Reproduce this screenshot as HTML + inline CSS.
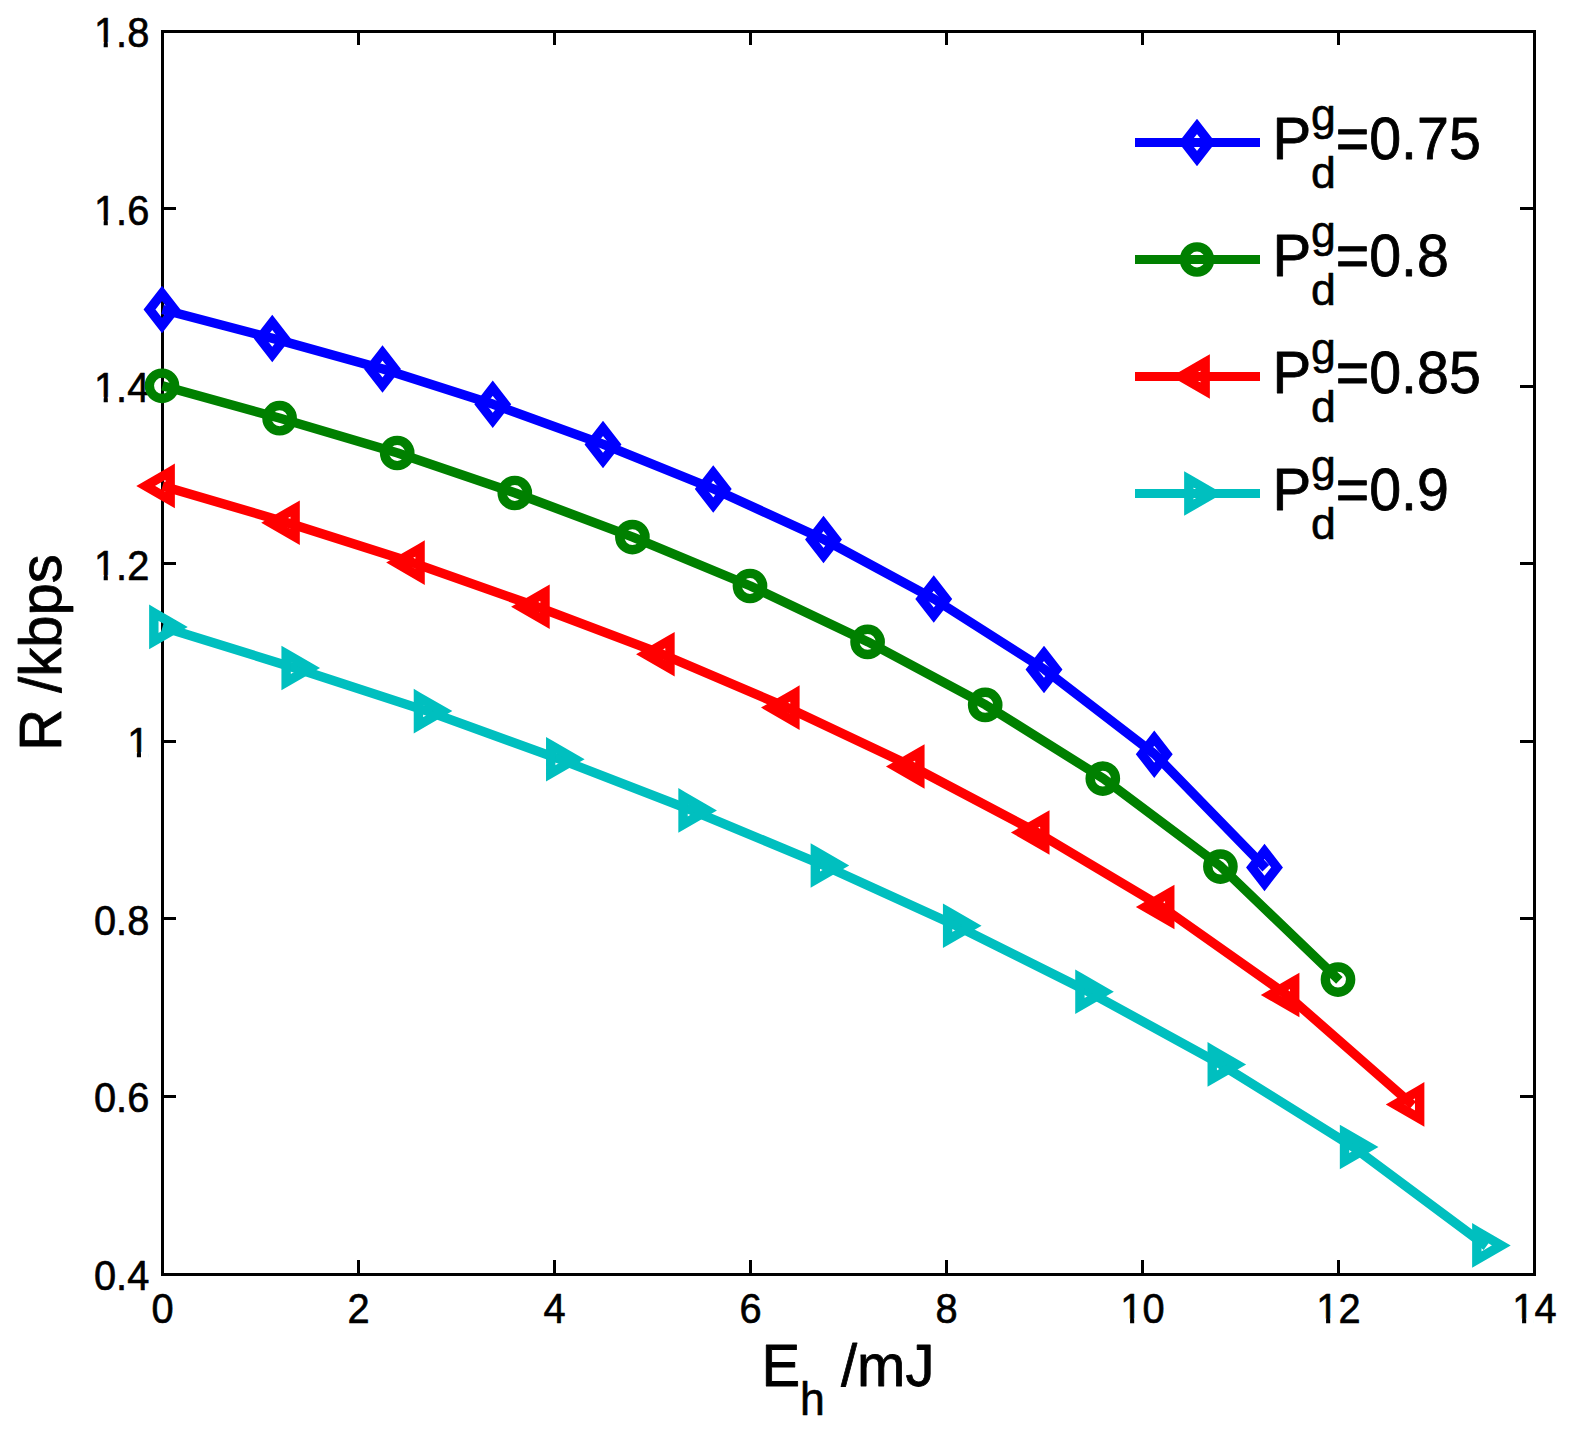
<!DOCTYPE html>
<html lang="en">
<head>
<meta charset="utf-8">
<title>R vs E_h</title>
<style>
html,body{margin:0;padding:0;background:#fff;}
body{width:1572px;height:1439px;overflow:hidden;}
svg{display:block;}
text{font-family:"Liberation Sans",sans-serif;fill:#000;}
text{stroke:#000;stroke-linejoin:round;}
.tick{font-size:39.8px;stroke-width:0.6px;}
.lab{font-size:58px;stroke-width:0.8px;}
.sub{font-size:44.6px;stroke-width:0.6px;}
</style>
</head>
<body>
<svg width="1572" height="1439" viewBox="0 0 1572 1439">
<rect x="0" y="0" width="1572" height="1439" fill="#ffffff"/>
<g fill="#000" shape-rendering="crispEdges">
<rect x="161" y="30" width="1375" height="3"/>
<rect x="161" y="1273" width="1375" height="3"/>
<rect x="161" y="30" width="3" height="1246"/>
<rect x="1533" y="30" width="3" height="1246"/>
<rect x="357" y="1260" width="3" height="13"/>
<rect x="357" y="33" width="3" height="12"/>
<rect x="553" y="1260" width="3" height="13"/>
<rect x="553" y="33" width="3" height="12"/>
<rect x="749" y="1260" width="3" height="13"/>
<rect x="749" y="33" width="3" height="12"/>
<rect x="945" y="1260" width="3" height="13"/>
<rect x="945" y="33" width="3" height="12"/>
<rect x="1141" y="1260" width="3" height="13"/>
<rect x="1141" y="33" width="3" height="12"/>
<rect x="1337" y="1260" width="3" height="13"/>
<rect x="1337" y="33" width="3" height="12"/>
<rect x="164" y="207" width="12" height="3"/>
<rect x="1520" y="207" width="13" height="3"/>
<rect x="164" y="385" width="12" height="3"/>
<rect x="1520" y="385" width="13" height="3"/>
<rect x="164" y="562" width="12" height="3"/>
<rect x="1520" y="562" width="13" height="3"/>
<rect x="164" y="740" width="12" height="3"/>
<rect x="1520" y="740" width="13" height="3"/>
<rect x="164" y="917" width="12" height="3"/>
<rect x="1520" y="917" width="13" height="3"/>
<rect x="164" y="1095" width="12" height="3"/>
<rect x="1520" y="1095" width="13" height="3"/>
</g>
<g class="tick">
<text transform="translate(149.3 46.5) scale(1 1.08)" text-anchor="end">1.8</text>
<text transform="translate(149.3 224.5) scale(1 1.08)" text-anchor="end">1.6</text>
<text transform="translate(149.3 401.5) scale(1 1.08)" text-anchor="end">1.4</text>
<text transform="translate(149.3 579.5) scale(1 1.08)" text-anchor="end">1.2</text>
<text transform="translate(149.3 756.5) scale(1 1.08)" text-anchor="end">1</text>
<text transform="translate(149.3 934.5) scale(1 1.08)" text-anchor="end">0.8</text>
<text transform="translate(149.3 1111.5) scale(1 1.08)" text-anchor="end">0.6</text>
<text transform="translate(149.3 1289.5) scale(1 1.08)" text-anchor="end">0.4</text>
<text transform="translate(162.5 1323.1) scale(1 1.08)" text-anchor="middle">0</text>
<text transform="translate(358.5 1323.1) scale(1 1.08)" text-anchor="middle">2</text>
<text transform="translate(554.5 1323.1) scale(1 1.08)" text-anchor="middle">4</text>
<text transform="translate(750.5 1323.1) scale(1 1.08)" text-anchor="middle">6</text>
<text transform="translate(946.5 1323.1) scale(1 1.08)" text-anchor="middle">8</text>
<text transform="translate(1142.5 1323.1) scale(1 1.08)" text-anchor="middle">10</text>
<text transform="translate(1338.5 1323.1) scale(1 1.08)" text-anchor="middle">12</text>
<text transform="translate(1534.5 1323.1) scale(1 1.08)" text-anchor="middle">14</text>
</g>
<rect x="94.97" y="41.89" width="8.71" height="6.41" fill="#fff"/>
<rect x="107.8" y="41.89" width="7.6" height="6.41" fill="#fff"/>
<rect x="94.97" y="219.89" width="8.71" height="6.41" fill="#fff"/>
<rect x="107.8" y="219.89" width="7.6" height="6.41" fill="#fff"/>
<rect x="94.97" y="396.89" width="8.71" height="6.41" fill="#fff"/>
<rect x="107.8" y="396.89" width="7.6" height="6.41" fill="#fff"/>
<rect x="94.97" y="574.89" width="8.71" height="6.41" fill="#fff"/>
<rect x="107.8" y="574.89" width="7.6" height="6.41" fill="#fff"/>
<rect x="128.17" y="751.89" width="8.71" height="6.41" fill="#fff"/>
<rect x="140.99" y="751.89" width="7.6" height="6.41" fill="#fff"/>
<rect x="1121.37" y="1318.49" width="8.71" height="6.41" fill="#fff"/>
<rect x="1134.19" y="1318.49" width="7.6" height="6.41" fill="#fff"/>
<rect x="1317.37" y="1318.49" width="8.71" height="6.41" fill="#fff"/>
<rect x="1330.19" y="1318.49" width="7.6" height="6.41" fill="#fff"/>
<rect x="1513.37" y="1318.49" width="8.71" height="6.41" fill="#fff"/>
<rect x="1526.19" y="1318.49" width="7.6" height="6.41" fill="#fff"/>
<text class="lab" transform="translate(761.4 1385.8) scale(1 1.02)">E<tspan class="sub" dy="28.33">h</tspan><tspan dy="-28.33"> /mJ</tspan></text>
<text class="lab" transform="translate(60.8 750.8) rotate(-90) scale(1 1.02)">R /kbps</text>
<g stroke="#0000ff" stroke-width="9.4" fill="none" stroke-linejoin="miter" stroke-miterlimit="10">
<polyline points="162.5,309.5 272.75,338.4 383,369 493.25,404.3 603.5,444.4 713.75,489 824,539.5 934.25,599.1 1044.5,669.4 1154.75,754.2 1265.84,868.26" stroke-linejoin="round"/>
<polygon points="162,293.4 174.5,309.5 162,325.6 149.5,309.5"/>
<polygon points="272.25,322.3 284.75,338.4 272.25,354.5 259.75,338.4"/>
<polygon points="382.5,352.9 395,369 382.5,385.1 370,369"/>
<polygon points="492.75,388.2 505.25,404.3 492.75,420.4 480.25,404.3"/>
<polygon points="603,428.3 615.5,444.4 603,460.5 590.5,444.4"/>
<polygon points="713.25,472.9 725.75,489 713.25,505.1 700.75,489"/>
<polygon points="823.5,523.4 836,539.5 823.5,555.6 811,539.5"/>
<polygon points="933.75,583 946.25,599.1 933.75,615.2 921.25,599.1"/>
<polygon points="1044,653.3 1056.5,669.4 1044,685.5 1031.5,669.4"/>
<polygon points="1154.25,738.1 1166.75,754.2 1154.25,770.3 1141.75,754.2"/>
<polygon points="1264.5,851.3 1277,867.4 1264.5,883.5 1252,867.4"/>
</g>
<g stroke="#008000" stroke-width="9.4" fill="none" stroke-linejoin="miter" stroke-miterlimit="10">
<polyline points="162.5,385.8 280.1,418.2 397.7,453 515.3,493 632.9,537.1 750.5,586 868.1,641.9 985.7,704.9 1103.3,778.6 1220.9,866.6 1339.37,980.43" stroke-linejoin="round"/>
<circle cx="162" cy="385.8" r="12.65"/>
<circle cx="279.6" cy="418.2" r="12.65"/>
<circle cx="397.2" cy="453" r="12.65"/>
<circle cx="514.8" cy="493" r="12.65"/>
<circle cx="632.4" cy="537.1" r="12.65"/>
<circle cx="750" cy="586" r="12.65"/>
<circle cx="867.6" cy="641.9" r="12.65"/>
<circle cx="985.2" cy="704.9" r="12.65"/>
<circle cx="1102.8" cy="778.6" r="12.65"/>
<circle cx="1220.4" cy="866.6" r="12.65"/>
<circle cx="1338" cy="979.6" r="12.65"/>
</g>
<g stroke="#ff0000" stroke-width="9.4" fill="none" stroke-linejoin="miter" stroke-miterlimit="10">
<polyline points="162.5,485.9 287.45,522.7 412.4,562.6 537.35,606.8 662.3,654.2 787.25,707.6 912.2,766.5 1037.15,832.5 1162.1,907 1287.05,995 1412.9,1105.19" stroke-linejoin="round"/>
<polygon points="170.17,471.75 145.66,485.9 170.17,500.05"/>
<polygon points="295.12,508.55 270.61,522.7 295.12,536.85"/>
<polygon points="420.07,548.45 395.56,562.6 420.07,576.75"/>
<polygon points="545.02,592.65 520.51,606.8 545.02,620.95"/>
<polygon points="669.97,640.05 645.46,654.2 669.97,668.35"/>
<polygon points="794.92,693.45 770.41,707.6 794.92,721.75"/>
<polygon points="919.87,752.35 895.36,766.5 919.87,780.65"/>
<polygon points="1044.82,818.35 1020.31,832.5 1044.82,846.65"/>
<polygon points="1169.77,892.85 1145.26,907 1169.77,921.15"/>
<polygon points="1294.72,980.85 1270.21,995 1294.72,1009.15"/>
<polygon points="1419.67,1090.25 1395.16,1104.4 1419.67,1118.55"/>
</g>
<g stroke="#00bfbf" stroke-width="9.4" fill="none" stroke-linejoin="miter" stroke-miterlimit="10">
<polyline points="162.5,626.9 294.8,668 427.1,711.1 559.4,759.2 691.7,810.4 824,865.5 956.3,925.8 1088.6,991.8 1220.9,1064.4 1353.2,1147 1486.46,1246.12" stroke-linejoin="round"/>
<polygon points="153.83,612.75 178.34,626.9 153.83,641.05"/>
<polygon points="286.13,653.85 310.64,668 286.13,682.15"/>
<polygon points="418.43,696.95 442.94,711.1 418.43,725.25"/>
<polygon points="550.73,745.05 575.24,759.2 550.73,773.35"/>
<polygon points="683.03,796.25 707.54,810.4 683.03,824.55"/>
<polygon points="815.33,851.35 839.84,865.5 815.33,879.65"/>
<polygon points="947.63,911.65 972.14,925.8 947.63,939.95"/>
<polygon points="1079.93,977.65 1104.44,991.8 1079.93,1005.95"/>
<polygon points="1212.23,1050.25 1236.74,1064.4 1212.23,1078.55"/>
<polygon points="1344.53,1132.85 1369.04,1147 1344.53,1161.15"/>
<polygon points="1476.83,1231.25 1501.34,1245.4 1476.83,1259.55"/>
</g>
<g stroke="#0000ff" stroke-width="9.4" fill="none" stroke-miterlimit="10">
<line x1="1135" y1="142.5" x2="1260" y2="142.5" stroke-width="9" shape-rendering="crispEdges"/>
<polygon points="1197,126.4 1209.5,142.5 1197,158.6 1184.5,142.5"/>
</g>
<text class="lab" transform="translate(1272.4 158.7) scale(1 1.02)">P</text>
<text class="sub" transform="translate(1310.9 129.9) scale(1 1)">g</text>
<text class="sub" transform="translate(1310.9 187.7) scale(1 1)">d</text>
<text class="lab" transform="translate(1335.8 158.7) scale(0.988 1.02)">=0.75</text>
<g stroke="#008000" stroke-width="9.4" fill="none" stroke-miterlimit="10">
<line x1="1135" y1="259.5" x2="1260" y2="259.5" stroke-width="9" shape-rendering="crispEdges"/>
<circle cx="1197" cy="259.5" r="12.65"/>
</g>
<text class="lab" transform="translate(1272.4 275.7) scale(1 1.02)">P</text>
<text class="sub" transform="translate(1310.9 246.9) scale(1 1)">g</text>
<text class="sub" transform="translate(1310.9 304.7) scale(1 1)">d</text>
<text class="lab" transform="translate(1335.8 275.7) scale(0.988 1.02)">=0.8</text>
<g stroke="#ff0000" stroke-width="9.4" fill="none" stroke-miterlimit="10">
<line x1="1135" y1="376.5" x2="1260" y2="376.5" stroke-width="9" shape-rendering="crispEdges"/>
<polygon points="1205.17,362.35 1180.66,376.5 1205.17,390.65"/>
</g>
<text class="lab" transform="translate(1272.4 392.7) scale(1 1.02)">P</text>
<text class="sub" transform="translate(1310.9 363.9) scale(1 1)">g</text>
<text class="sub" transform="translate(1310.9 421.7) scale(1 1)">d</text>
<text class="lab" transform="translate(1335.8 392.7) scale(0.988 1.02)">=0.85</text>
<g stroke="#00bfbf" stroke-width="9.4" fill="none" stroke-miterlimit="10">
<line x1="1135" y1="493.5" x2="1260" y2="493.5" stroke-width="9" shape-rendering="crispEdges"/>
<polygon points="1188.83,479.35 1213.34,493.5 1188.83,507.65"/>
</g>
<text class="lab" transform="translate(1272.4 509.7) scale(1 1.02)">P</text>
<text class="sub" transform="translate(1310.9 480.9) scale(1 1)">g</text>
<text class="sub" transform="translate(1310.9 538.7) scale(1 1)">d</text>
<text class="lab" transform="translate(1335.8 509.7) scale(0.988 1.02)">=0.9</text>
</svg>
</body>
</html>
